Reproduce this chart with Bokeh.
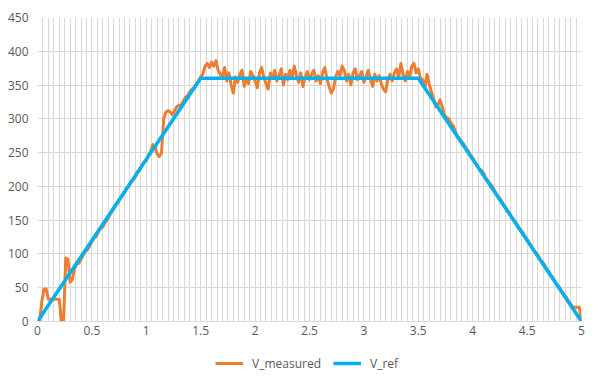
from bokeh.plotting import figure
from bokeh.layouts import column
from bokeh.models import Range1d, FixedTicker, Legend, LegendItem, ColumnDataSource
from bokeh.embed import file_html
from bokeh.resources import INLINE

# ---- data ----
t_step = 0.02
v_measured = [
    0, 2, 30, 48, 48, 33, 33, 33, 33, 33,            # 0.00-0.18
    33, 0, 2, 94, 92, 58, 62, 78, 85, 86,            # 0.20-0.38
    92, 98, 104, 106, 112, 118, 124, 126, 133, 138,  # 0.40-0.58
    140, 146, 150, 156, 162, 166, 172, 176, 182, 186,
    190, 198, 200, 206, 210, 214, 222, 224, 232, 236,
    238, 246, 252, 262, 258, 248, 244, 250, 300, 310,
    312, 310, 306, 312, 318, 320, 320, 326, 332, 334,
    340, 344, 346, 352, 356, 362, 366, 378, 382, 376,
    384, 378, 386, 372, 366, 362, 376, 356, 368, 350,
    338, 362, 354, 366, 372, 348, 360, 352, 370, 364,
    356, 346, 368, 376, 362, 352, 344, 368, 360, 372,
    356, 364, 374, 350, 366, 358, 372, 360, 378, 364,
    354, 368, 348, 362, 370, 358, 366, 372, 356, 364,
    352, 368, 376, 360, 348, 338, 344, 362, 370, 364,
    378, 372, 356, 366, 350, 368, 374, 358, 364, 370,
    354, 362, 372, 360, 348, 366, 356, 364, 352, 344,
    340, 358, 366, 356, 368, 374, 362, 382, 366, 356,
    370, 362, 378, 382, 368, 374, 360, 358, 346, 366,
    352, 340, 330, 318, 320, 328, 318, 306, 302, 300,
    294, 290, 282, 274, 270, 266, 262, 256, 252, 246,
    242, 236, 232, 226, 224, 220, 212, 208, 204, 200,
    194, 188, 184, 180, 174, 170, 164, 160, 154, 150,
    146, 140, 136, 132, 126, 122, 116, 112, 106, 102,
    98, 92, 88, 84, 78, 74, 68, 64, 58, 54,
    50, 44, 40, 36, 30, 26, 22, 21, 21, 21,
    0,
]
t_measured = [round(i * t_step, 2) for i in range(len(v_measured))]

t_ref = [0, 1.5, 3.5, 5]
v_ref = [0, 360, 360, 0]

x_ticks = [0, 0.5, 1, 1.5, 2, 2.5, 3, 3.5, 4, 4.5, 5]
x_tick_labels = ["0", "0.5", "1", "1.5", "2", "2.5", "3", "3.5", "4", "4.5", "5"]
x_minor_step = 0.05
y_ticks = [0, 50, 100, 150, 200, 250, 300, 350, 400, 450]

series_names = ["V_measured", "V_ref"]

# ---- style ----
GRID = "#D9D9D9"
TXT = "#595959"
FONT = "Open Sans"
ORANGE = "#ED7D31"
BLUE = "#00B0F0"

p = figure(width=598, height=345, output_backend="svg", toolbar_location=None,
           x_range=Range1d(0, 5), y_range=Range1d(0, 450),
           min_border_left=37, min_border_right=17, min_border_top=17,
           min_border_bottom=24)
p.outline_line_color = None
p.background_fill_color = "white"
p.border_fill_color = "white"

minor = [round(i * x_minor_step, 2) for i in range(int(round(5 / x_minor_step)) + 1)]
xt = FixedTicker(ticks=x_ticks, minor_ticks=minor)
p.xaxis.ticker = xt
p.xgrid.ticker = xt
p.xgrid.grid_line_color = GRID
p.xgrid.minor_grid_line_color = GRID
p.yaxis.ticker = FixedTicker(ticks=y_ticks)
p.ygrid.grid_line_color = GRID

p.xaxis.major_label_overrides = {k: v for k, v in zip(x_ticks, x_tick_labels)}

for ax in (p.xaxis[0], p.yaxis[0]):
    ax.major_tick_line_color = None
    ax.minor_tick_line_color = None
    ax.major_tick_out = 0
    ax.major_tick_in = 0
    ax.minor_tick_out = 0
    ax.minor_tick_in = 0
    ax.major_label_text_font = FONT
    ax.major_label_text_font_size = "12px"
    ax.major_label_text_color = TXT
p.xaxis.axis_line_color = GRID
p.yaxis.axis_line_color = None
p.yaxis.major_label_standoff = 9
p.xaxis.major_label_standoff = 4

src_m = ColumnDataSource(dict(t=t_measured, v=v_measured))
src_r = ColumnDataSource(dict(t=t_ref, v=v_ref))
p.line("t", "v", source=src_m, line_color=ORANGE, line_width=3, line_join="round")
p.line("t", "v", source=src_r, line_color=BLUE, line_width=3.5, line_join="round")

# ---- legend strip below the chart (series drawn out of view, only the legend shows) ----
lg = figure(width=598, height=39, output_backend="svg", toolbar_location=None,
            x_range=Range1d(100, 101), y_range=Range1d(1000, 1001),
            min_border=0, min_border_left=0, min_border_right=0,
            min_border_top=0, min_border_bottom=0)
lg.axis.visible = False
lg.grid.visible = False
lg.outline_line_color = None
lg.border_fill_color = "white"
lm = lg.line("t", "v", source=src_m, line_color=ORANGE, line_width=3)
lr = lg.line("t", "v", source=src_r, line_color=BLUE, line_width=3.5)
legend = Legend(items=[LegendItem(label=series_names[0], renderers=[lm]),
                       LegendItem(label=series_names[1], renderers=[lr])],
                orientation="horizontal", location=(178, 11),
                border_line_color=None, background_fill_alpha=0,
                label_text_font=FONT, label_text_font_size="12px",
                label_text_color=TXT, glyph_width=28, glyph_height=20,
                label_standoff=9, spacing=12, padding=3, margin=0)
lg.add_layout(legend, "center")

layout = column(p, lg, spacing=0)
open("out.html", "w").write(file_html(layout, INLINE))
